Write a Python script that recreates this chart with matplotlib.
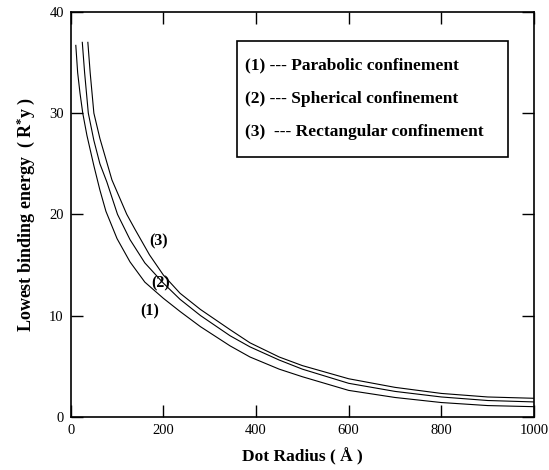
import matplotlib
matplotlib.use('Agg')
import matplotlib.pyplot as plt
from matplotlib.patches import Rectangle

plt.rcParams['font.family'] = ['Liberation Serif', 'DejaVu Serif']
plt.rcParams['mathtext.fontset'] = 'custom'
plt.rcParams['mathtext.rm'] = 'Liberation Serif:bold'
plt.rcParams['mathtext.it'] = 'Liberation Serif:bold'
plt.rcParams['mathtext.bf'] = 'Liberation Serif:bold'

# values
r1 = [11, 15, 20, 26, 35, 50, 63, 76, 100, 128, 160, 200, 236, 280, 344, 387, 450, 500, 600, 700, 800, 900, 1000]
e1 = [36.7, 34.0, 32.0, 30.0, 27.8, 24.8, 22.4, 20.3, 17.6, 15.3, 13.3, 11.7, 10.4, 8.9, 7.0, 5.9, 4.7, 3.95, 2.6, 1.9, 1.4, 1.1, 0.99]

r2 = [25, 30, 38, 50, 63, 78, 101, 128, 160, 200, 236, 280, 344, 387, 450, 500, 600, 700, 800, 900, 1000]
e2 = [37.0, 34.0, 30.0, 27.3, 25.0, 23.2, 20.0, 17.5, 15.2, 13.2, 11.6, 10.0, 8.0, 6.9, 5.6, 4.7, 3.3, 2.5, 1.95, 1.6, 1.46]

r3 = [37, 42, 50, 63, 89, 121, 139, 170, 200, 236, 280, 344, 387, 450, 500, 600, 700, 800, 900, 1000]
e3 = [37.0, 34.0, 30.0, 27.5, 23.4, 20.0, 18.5, 16.0, 14.0, 12.2, 10.6, 8.6, 7.3, 5.9, 5.05, 3.75, 2.9, 2.3, 1.95, 1.82]

curve_tags = ['(1)', '(2)', '(3)']
tag_x = [171, 193, 189]
tag_y = [10.4, 13.2, 17.3]
legend_lines = ['(1) --- Parabolic confinement',
                '(2) --- Spherical confinement',
                '(3)  --- Rectangular confinement']
xticks = [0, 200, 400, 600, 800, 1000]
yticks = [0, 10, 20, 30, 40]

fig = plt.figure(figsize=(5.49, 4.70), dpi=100)
ax = fig.add_axes([0.1288, 0.1134, 0.8439, 0.8611])

for r, e in [(r1, e1), (r2, e2), (r3, e3)]:
    ax.plot(r, e, color='black', lw=0.8)

for t, tx, ty in zip(curve_tags, tag_x, tag_y):
    ax.text(tx, ty, t, ha='center', va='center', fontsize=11.5, fontweight='bold')

ax.set_xlim(0, 1000)
ax.set_ylim(0, 40)
ax.set_xticks(xticks)
ax.set_yticks(yticks)
ax.tick_params(direction='in', length=8.5, width=1.0, top=True, right=True,
               labelsize=10.5, pad=5)
for s in ax.spines.values():
    s.set_linewidth(1.2)

# legend box drawn by hand
ax.add_patch(Rectangle((0.359, 0.642), 0.585, 0.286, transform=ax.transAxes,
                       fill=False, lw=1.2, ec='black'))
for i, line in enumerate(legend_lines):
    ax.text(0.376, [0.869, 0.784, 0.704][i], line, transform=ax.transAxes,
            ha='left', va='center', fontsize=12.5, fontweight='bold')

ax.set_xlabel('Dot Radius ( Å )', fontsize=12.5, fontweight='bold', labelpad=8)
ax.set_ylabel(r'Lowest binding energy  ( R$^{*}$y )', fontsize=13,
              fontweight='bold', labelpad=9)

fig.savefig('out.png', dpi=100)
